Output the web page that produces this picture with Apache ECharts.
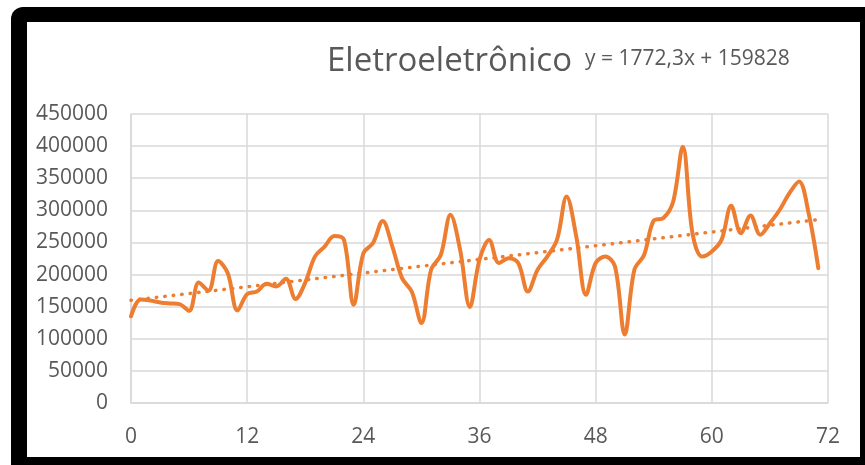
<!DOCTYPE html>
<html>
<head>
<meta charset="utf-8">
<script src="https://cdn.jsdelivr.net/npm/echarts@6/dist/echarts.min.js"></script>
<style>
  html, body { margin: 0; padding: 0; background: #ffffff; }
  #frame {
    position: absolute; left: 11px; top: 7px; width: 854px; height: 458px;
    background: #000000; border-top-left-radius: 12px;
  }
  #inner {
    position: absolute; left: 27px; top: 22px; width: 833px; height: 435px;
    background: #ffffff;
  }
  #chart { position: absolute; left: 0; top: 0; width: 865px; height: 465px; }
</style>
</head>
<body>
<div id="frame"></div>
<div id="inner"></div>
<div id="chart"></div>
<script>
// Monthly production index, months 0..71
const months = Array.from({ length: 72 }, (_, i) => i);
const values = [
  135000, 161000, 159500, 156500, 155000, 154000, 143500, 187500, 175000, 221000,
  202000, 144000, 169500, 173500, 185500, 181500, 193500, 162000, 187500, 228000,
  243500, 260000, 254000, 153000, 233000, 249000, 283500, 243500, 194500, 173500,
  124500, 207500, 230500, 293000, 238500, 149500, 223000, 254000, 218000, 225500,
  218000, 173500, 207500, 228000, 254000, 321500, 259000, 168500, 218000, 228000,
  212500, 106500, 207500, 230500, 284000, 288000, 313500, 399000, 264500, 228000,
  236000, 254000, 307000, 264500, 292000, 262000, 280000, 300500, 326500, 345000,
  295500, 210000
];
const xTicks = { min: 0, max: 72, step: 12 };
const yTicks = { min: 0, max: 450000, step: 50000 };
// Linear trend y = slope * x + intercept
const trendSlope = 1772.3;
const trendIntercept = 159828;
const titleText = 'Eletroeletrônico';
const equationText = 'y = 1772,3x + 159828';

const lineData = months.map((m, i) => [m, values[i]]);
const xFirst = months[0], xLast = months[months.length - 1];
const trendData = [
  [xFirst, trendSlope * xFirst + trendIntercept],
  [xLast, trendSlope * xLast + trendIntercept]
];

const FONT = '"Open Sans", "Noto Sans", sans-serif';
const TEXT = '#595959';
const GRID = '#D9D9D9';
const ORANGE = '#ED7D31';

const chart = echarts.init(document.getElementById('chart'), null, { renderer: 'canvas' });
chart.setOption({
  backgroundColor: 'transparent',
  animation: false,
  grid: { left: 131, right: 37, top: 114, bottom: 62, containLabel: false },
  xAxis: {
    type: 'value', min: xTicks.min, max: xTicks.max, interval: xTicks.step,
    axisLine: { show: true, lineStyle: { color: GRID, width: 1.5 } },
    axisTick: { show: false },
    axisLabel: { color: TEXT, fontFamily: FONT, fontSize: 21, margin: 24 },
    splitLine: { show: true, lineStyle: { color: GRID, width: 1.5 } }
  },
  yAxis: {
    type: 'value', min: yTicks.min, max: yTicks.max, interval: yTicks.step,
    axisLine: { show: true, lineStyle: { color: GRID, width: 1.5 } },
    axisTick: { show: false },
    axisLabel: {
      color: TEXT, fontFamily: FONT, fontSize: 21, margin: 23,
      formatter: v => String(v)
    },
    splitLine: { show: true, lineStyle: { color: GRID, width: 1.5 } }
  },
  graphic: [
    { type: 'text', left: 327, top: 45,
      style: { text: titleText, font: '33px ' + FONT, fill: TEXT } },
    { type: 'text', left: 585, top: 49,
      style: { text: equationText, font: '21px ' + FONT, fill: TEXT } }
  ],
  series: [
    {
      type: 'line', data: lineData, smooth: 0.35, showSymbol: false, z: 3,
      lineStyle: { color: ORANGE, width: 4, cap: 'round', join: 'round' }
    },
    {
      type: 'line', data: trendData, showSymbol: false, z: 2,
      lineStyle: { color: ORANGE, width: 3.5, type: [0.5, 8], cap: 'round' }
    }
  ]
});
</script>
</body>
</html>
